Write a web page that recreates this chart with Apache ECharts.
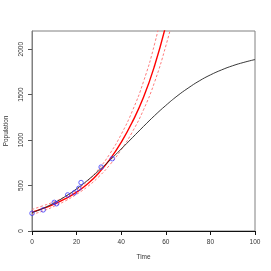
<!DOCTYPE html>
<html><head><meta charset="utf-8">
<script src="https://cdn.jsdelivr.net/npm/echarts@6/dist/echarts.min.js"></script>
<style>html,body{margin:0;padding:0;background:#fff}#c{width:271px;height:271px}</style>
</head><body><div id="c"></div>
<script>
// observed data (blue circles)
var obsTime = [0, 5, 10, 11, 16, 19, 21, 22, 31, 36];
var obsPop  = [195, 232, 315, 300, 397, 420, 470, 533, 703, 795];
// logistic curve (black)
var logTime = [0,5,10,15,20,25,30,35,40,45,50,55,60,65,70,75,80,85,90,95,100];
var logPop  = [200,250,310,381,464,559,665,780,902,1026,1150,1270,1381,1483,1572,1651,1717,1772,1818,1855,1886];
// exponential fit (red) and its bounds (dashed)
var fitTime  = [0,5,10,15,20,25,30,35,40,45,50,55,60,65];
var fitPop   = [208,248,296,355,428,520,640,790,975,1200,1470,1820,2260,2800];
var fitUpper = [237,278,323,380,454,552,685,853,1063,1320,1643,2060,2600,3250];
var fitLower = [182,221,272,332,404,490,598,731,894,1090,1333,1640,2035,2500];
var xTicks = [0,20,40,60,80,100];
var yTicks = [0,500,1000,1500,2000];

function pairs(a,b){return a.map(function(v,i){return [v,b[i]];});}
var font = 'Liberation Sans, Arial, sans-serif';
var chart = echarts.init(document.getElementById('c'), null, {renderer:'canvas'});
chart.setOption({
  animation:false,
  grid:{left:32,right:16,top:31,bottom:40,show:true,borderColor:'#808080',borderWidth:1,
    containLabel:false,outerBoundsMode:'none'},
  xAxis:{type:'value',min:0,max:100,interval:20,
    name:'Time',nameLocation:'middle',nameGap:23,
    nameTextStyle:{fontFamily:font,fontSize:6.5,color:'#333'},
    axisLine:{show:true,lineStyle:{color:'#111',width:1}},
    axisTick:{show:true,length:4,lineStyle:{color:'#111'},customValues:xTicks},
    axisLabel:{fontFamily:font,fontSize:6.5,color:'#333',margin:8,customValues:xTicks,
      formatter:function(v){return String(v);}},
    splitLine:{show:false}},
  yAxis:{type:'value',min:0,max:2200,interval:500,
    name:'Population',nameLocation:'middle',nameGap:22,
    nameTextStyle:{fontFamily:font,fontSize:6.5,color:'#333'},
    axisLine:{show:true,lineStyle:{color:'#808080',width:1}},
    axisTick:{show:true,length:4,lineStyle:{color:'#555'},customValues:yTicks},
    axisLabel:{fontFamily:font,fontSize:6.5,color:'#333',rotate:90,margin:7,customValues:yTicks,
      formatter:function(v){return String(v);}},
    splitLine:{show:false}},
  series:[
    {type:'line',data:pairs(fitTime,fitUpper),smooth:true,symbol:'none',clip:true,z:2,
      lineStyle:{color:'#ff7a7a',width:1,type:[2.5,2]}},
    {type:'line',data:pairs(fitTime,fitLower),smooth:true,symbol:'none',clip:true,z:2,
      lineStyle:{color:'#ff7a7a',width:1,type:[2.5,2]}},
    {type:'line',data:pairs(fitTime,fitPop),smooth:true,symbol:'none',clip:true,z:3,
      lineStyle:{color:'#ff0000',width:1.4}},
    {type:'line',data:pairs(logTime,logPop),smooth:true,symbol:'none',clip:true,z:4,
      lineStyle:{color:'#222',width:0.9}},
    {type:'scatter',data:pairs(obsTime,obsPop),symbol:'circle',symbolSize:4.5,z:5,
      itemStyle:{color:'rgba(0,0,0,0)',borderColor:'#3a3aff',borderWidth:1}}
  ]
});
</script></body></html>
